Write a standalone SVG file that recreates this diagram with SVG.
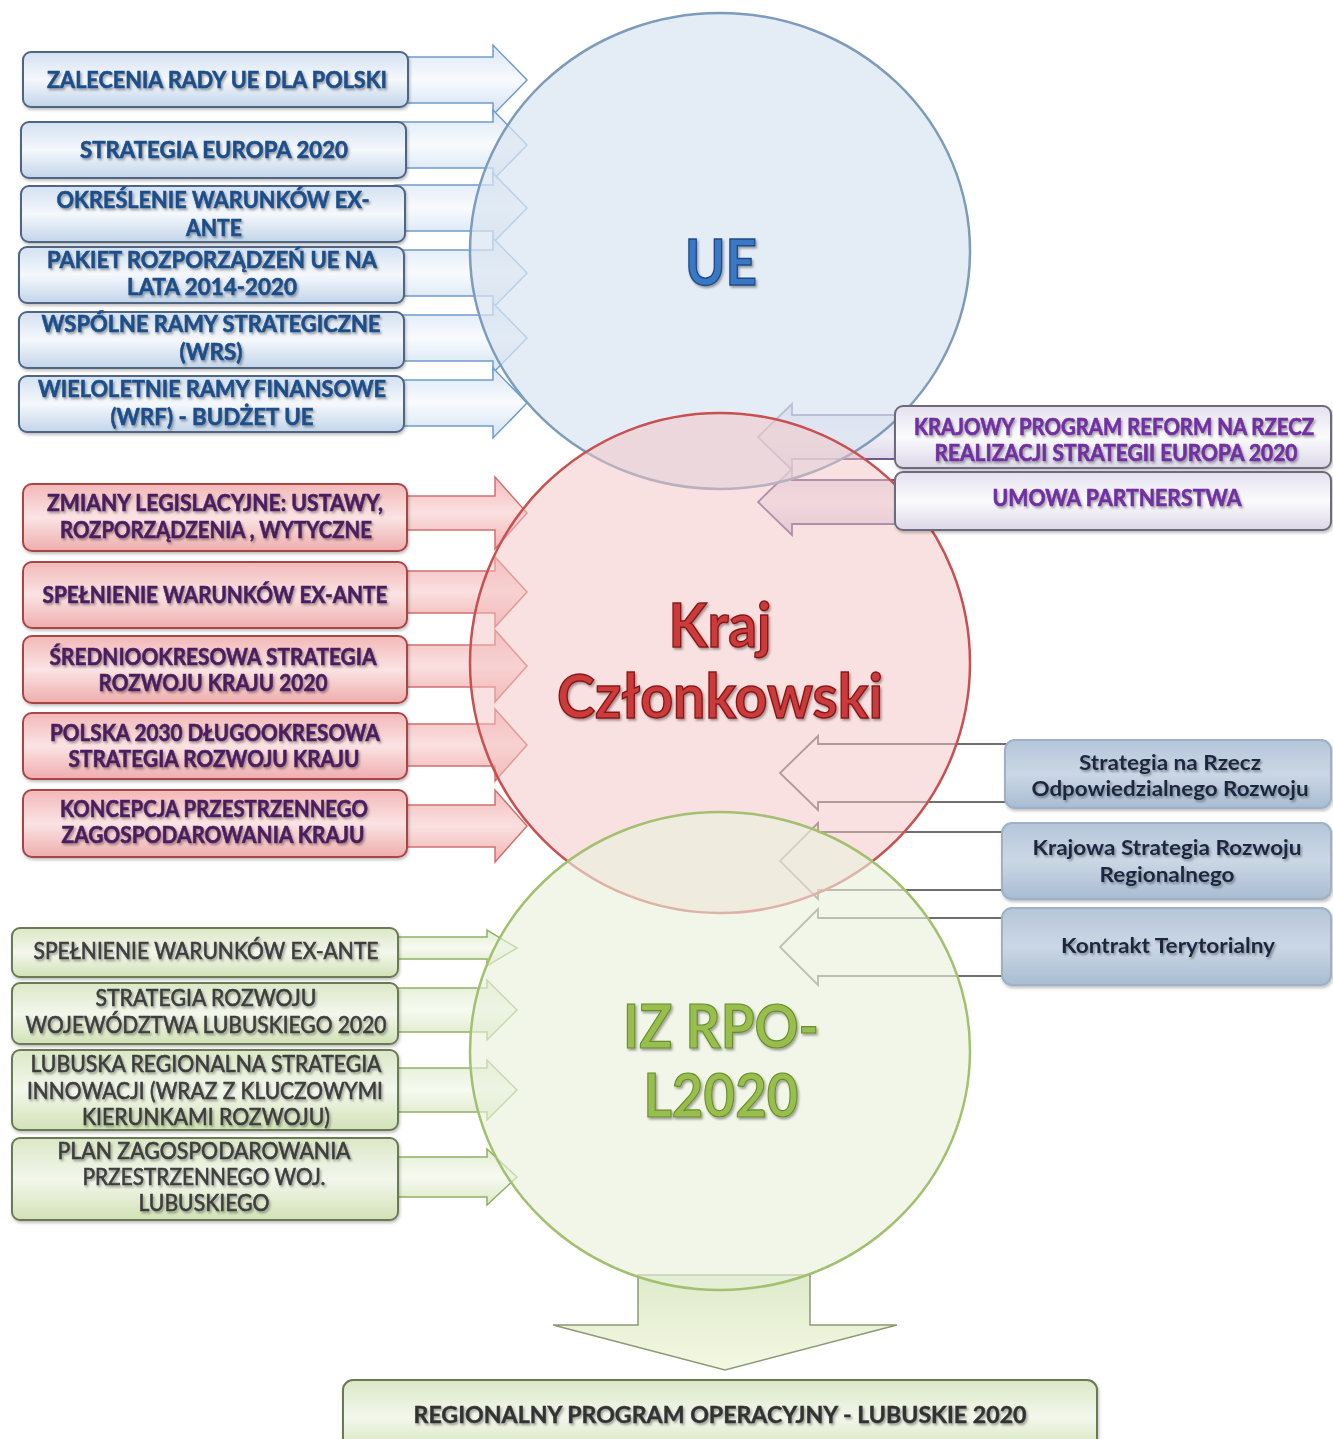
<svg xmlns="http://www.w3.org/2000/svg" width="1333" height="1439" viewBox="0 0 1333 1439">
<defs>
<linearGradient id="gBlueBox" x1="0" y1="0" x2="0" y2="1"><stop offset="0" stop-color="#d3e1f1"/><stop offset="0.5" stop-color="#f5f8fc"/><stop offset="1" stop-color="#c2d5ea"/></linearGradient>
<linearGradient id="gRedBox" x1="0" y1="0" x2="0" y2="1"><stop offset="0" stop-color="#f3b8b8"/><stop offset="0.5" stop-color="#fbe3e3"/><stop offset="1" stop-color="#efadad"/></linearGradient>
<linearGradient id="gPurBox" x1="0" y1="0" x2="0" y2="1"><stop offset="0" stop-color="#e4e1ee"/><stop offset="0.5" stop-color="#fbfbfd"/><stop offset="1" stop-color="#dcd8e8"/></linearGradient>
<linearGradient id="gGrayBox" x1="0" y1="0" x2="0" y2="1"><stop offset="0" stop-color="#b5c6da"/><stop offset="0.5" stop-color="#cbd7e5"/><stop offset="1" stop-color="#a9bcd2"/></linearGradient>
<linearGradient id="gGreenBox" x1="0" y1="0" x2="0" y2="1"><stop offset="0" stop-color="#dbe8c6"/><stop offset="0.5" stop-color="#f3f7ec"/><stop offset="1" stop-color="#d2e2b6"/></linearGradient>
<linearGradient id="gBlueArr" x1="0" y1="0" x2="0" y2="1"><stop offset="0" stop-color="#dbe7f4"/><stop offset="0.5" stop-color="#f8fbfe"/><stop offset="1" stop-color="#d3e2f2"/></linearGradient>
<linearGradient id="gRedArr" x1="0" y1="0" x2="0" y2="1"><stop offset="0" stop-color="#f4bcbc"/><stop offset="0.5" stop-color="#fbe0e0"/><stop offset="1" stop-color="#f2b2b2"/></linearGradient>
<linearGradient id="gPurArr" x1="0" y1="0" x2="0" y2="1"><stop offset="0" stop-color="#ddd6e8"/><stop offset="0.5" stop-color="#f1eef6"/><stop offset="1" stop-color="#d5cde3"/></linearGradient>
<linearGradient id="gGreenArr" x1="0" y1="0" x2="0" y2="1"><stop offset="0" stop-color="#e3edd2"/><stop offset="0.5" stop-color="#f7faf1"/><stop offset="1" stop-color="#dce8c7"/></linearGradient>
<linearGradient id="gDown" x1="0" y1="0" x2="0" y2="1"><stop offset="0" stop-color="#dfeacb"/><stop offset="1" stop-color="#f3f8e2"/></linearGradient>
<filter id="ts" x="-10%" y="-30%" width="120%" height="160%"><feDropShadow dx="1.5" dy="2" stdDeviation="1" flood-color="#000" flood-opacity="0.35"/></filter>
<filter id="bs" x="-5%" y="-20%" width="110%" height="140%"><feDropShadow dx="1" dy="2" stdDeviation="1.5" flood-color="#000" flood-opacity="0.25"/></filter>
<style>
.bl{fill:url(#gBlueBox);stroke:#4f6582;stroke-width:2}
.rb{fill:url(#gRedBox);stroke:#a84545;stroke-width:2}
.pb{fill:url(#gPurBox);stroke:#6d6a7c;stroke-width:2}
.gb{fill:url(#gGrayBox);stroke:#9fb1c6;stroke-width:2}
.grb{fill:url(#gGreenBox);stroke:#6b7a55;stroke-width:2}
.ab{fill:url(#gBlueArr);stroke:#6f9ccb;stroke-width:1.5}
.ar{fill:url(#gRedArr);stroke:#d27070;stroke-width:1.5}
.ap{fill:url(#gPurArr);stroke:#6e5a8e;stroke-width:1.8}
.ag{fill:#ffffff;fill-opacity:0.35;stroke:#6f6f6f;stroke-width:1.8}
.agr{fill:url(#gGreenArr);stroke:#8eb266;stroke-width:1.5}
.ad{fill:url(#gDown);stroke:#8c9a74;stroke-width:1.5}
text{font-family:Lato,"Liberation Sans",Arial,sans-serif;text-anchor:middle}
.tb{font-size:23px;font-weight:bold;fill:#1f4f8a;stroke:#1f4f8a;stroke-width:0.6;filter:url(#ts)}
.tr{font-size:23px;font-weight:bold;fill:#4b1f5e;stroke:#4b1f5e;stroke-width:0.6;filter:url(#ts)}
.tp{font-size:22px;font-weight:bold;fill:#7030a0;stroke:#7030a0;stroke-width:0.6;filter:url(#ts)}
.tg{font-size:21px;font-weight:bold;fill:#1c2840;filter:url(#ts)}
.tgr{font-size:23px;font-weight:normal;fill:#3d3d3d;stroke:#3d3d3d;stroke-width:0.6;filter:url(#ts)}
.tbot{font-size:23px;font-weight:bold;fill:#333333;stroke:#333333;stroke-width:0.4;filter:url(#ts)}
</style>
</defs>
<rect width="1333" height="1439" fill="#ffffff"/>

<g id="connectors">
<polygon class="ab" points="395,57 493,57 493,45 527,80 493,115 493,103 395,103"/>
<polygon class="ab" points="395,122 493,122 493,110 527,145 493,180 493,168 395,168"/>
<polygon class="ab" points="395,185 493,185 493,173 527,208 493,243 493,231 395,231"/>
<polygon class="ab" points="395,250 493,250 493,238 527,273 493,308 493,296 395,296"/>
<polygon class="ab" points="395,315 493,315 493,303 527,338 493,373 493,361 395,361"/>
<polygon class="ab" points="395,380 493,380 493,368 527,403 493,438 493,426 395,426"/>
<polygon class="ar" points="395,496 495,496 495,477 527,513 495,549 495,530 395,530"/>
<polygon class="ar" points="395,571 495,571 495,557 527,592 495,627 495,613 395,613"/>
<polygon class="ar" points="395,645 495,645 495,630 527,666 495,702 495,687 395,687"/>
<polygon class="ar" points="395,724 495,724 495,709 527,745 495,781 495,766 395,766"/>
<polygon class="ar" points="395,805 495,805 495,790 527,826 495,862 495,847 395,847"/>
<polygon class="ap" points="900,415 792,415 792,404 758,437 792,470 792,459 900,459"/>
<polygon class="ap" points="900,480 792,480 792,469 758,502 792,535 792,524 900,524"/>
<polygon class="ag" points="1010,744 818,744 818,736 780,773 818,810 818,802 1010,802"/>
<polygon class="ag" points="1010,832 818,832 818,823 780,861 818,899 818,890 1010,890"/>
<polygon class="ag" points="1010,918 818,918 818,909 780,947 818,985 818,976 1010,976"/>
<polygon class="agr" points="390,937 487,937 487,930 517,948 487,966 487,959 390,959"/>
<polygon class="agr" points="390,988 487,988 487,980 517,1010 487,1040 487,1032 390,1032"/>
<polygon class="agr" points="390,1068 487,1068 487,1060 517,1090 487,1120 487,1112 390,1112"/>
<polygon class="agr" points="390,1157 487,1157 487,1149 517,1177 487,1205 487,1197 390,1197"/>
<polygon class="ad" points="638,1275 810,1275 810,1325 897,1325 725,1370 553,1325 638,1325"/>
</g>

<g id="circle-ue">
<ellipse cx="720" cy="251" rx="250" ry="238" fill="#d9e4f1" fill-opacity="0.72" stroke="#7d9bbb" stroke-width="2.5"/>
<text x="721" y="285" font-size="64" font-weight="bold" fill="#3b78c4" stroke="#1d4b88" stroke-width="1.5" filter="url(#ts)" textLength="72" lengthAdjust="spacingAndGlyphs">UE</text>
</g>
<g id="circle-kraj">
<ellipse cx="720" cy="663" rx="250" ry="250" fill="#f4c3c3" fill-opacity="0.5" stroke="#c85050" stroke-width="2.5"/>
<text x="720" y="647" font-size="62" font-weight="bold" fill="#cc3b3b" stroke="#861818" stroke-width="1.5" filter="url(#ts)" textLength="103" lengthAdjust="spacingAndGlyphs">Kraj</text>
<text x="720" y="718" font-size="62" font-weight="bold" fill="#cc3b3b" stroke="#861818" stroke-width="1.5" filter="url(#ts)" textLength="326" lengthAdjust="spacingAndGlyphs">Członkowski</text>
</g>
<g id="circle-iz">
<ellipse cx="720" cy="1051" rx="250" ry="239" fill="#e9f1dc" fill-opacity="0.62" stroke="#a2c070" stroke-width="2.5"/>
<text x="721" y="1048" font-size="62" font-weight="bold" fill="#98bf4e" stroke="#6a8c2c" stroke-width="1.2" filter="url(#ts)" textLength="196" lengthAdjust="spacingAndGlyphs">IZ RPO-</text>
<text x="721" y="1117" font-size="62" font-weight="bold" fill="#98bf4e" stroke="#6a8c2c" stroke-width="1.2" filter="url(#ts)" textLength="155" lengthAdjust="spacingAndGlyphs">L2020</text>
</g>

<g id="ue-1"><rect class="bl" x="23" y="52" width="385" height="55" rx="8" filter="url(#bs)"/><text class="tb" x="217" y="88" textLength="340" lengthAdjust="spacingAndGlyphs">ZALECENIA RADY UE DLA POLSKI</text></g>
<g id="ue-2"><rect class="bl" x="21" y="122" width="385" height="56" rx="8" filter="url(#bs)"/><text class="tb" x="214" y="158" textLength="268" lengthAdjust="spacingAndGlyphs">STRATEGIA EUROPA 2020</text></g>
<g id="ue-3"><rect class="bl" x="21" y="186" width="384" height="56" rx="8" filter="url(#bs)"/><text class="tb" x="213" y="208" textLength="313" lengthAdjust="spacingAndGlyphs">OKREŚLENIE WARUNKÓW EX-</text><text class="tb" x="214" y="236" textLength="56" lengthAdjust="spacingAndGlyphs">ANTE</text></g>
<g id="ue-4"><rect class="bl" x="19" y="247" width="385" height="56" rx="8" filter="url(#bs)"/><text class="tb" x="212" y="268" textLength="330" lengthAdjust="spacingAndGlyphs">PAKIET ROZPORZĄDZEŃ UE  NA</text><text class="tb" x="212" y="295" textLength="170" lengthAdjust="spacingAndGlyphs">LATA 2014-2020</text></g>
<g id="ue-5"><rect class="bl" x="19" y="312" width="385" height="56" rx="8" filter="url(#bs)"/><text class="tb" x="211" y="332" textLength="339" lengthAdjust="spacingAndGlyphs">WSPÓLNE RAMY STRATEGICZNE</text><text class="tb" x="211" y="360" textLength="63" lengthAdjust="spacingAndGlyphs">(WRS)</text></g>
<g id="ue-6"><rect class="bl" x="19" y="376" width="385" height="56" rx="8" filter="url(#bs)"/><text class="tb" x="212" y="397" textLength="348" lengthAdjust="spacingAndGlyphs">WIELOLETNIE RAMY FINANSOWE</text><text class="tb" x="212" y="425" textLength="203" lengthAdjust="spacingAndGlyphs">(WRF) - BUDŻET UE</text></g>

<g id="kraj-1"><rect class="rb" x="23" y="484" width="384" height="67" rx="9" filter="url(#bs)"/><text class="tr" x="215" y="511" textLength="336" lengthAdjust="spacingAndGlyphs">ZMIANY LEGISLACYJNE: USTAWY,</text><text class="tr" x="216" y="538" textLength="312" lengthAdjust="spacingAndGlyphs">ROZPORZĄDZENIA , WYTYCZNE</text></g>
<g id="kraj-2"><rect class="rb" x="23" y="562" width="384" height="66" rx="9" filter="url(#bs)"/><text class="tr" x="215" y="603" textLength="345" lengthAdjust="spacingAndGlyphs">SPEŁNIENIE WARUNKÓW EX-ANTE</text></g>
<g id="kraj-3"><rect class="rb" x="23" y="636" width="384" height="67" rx="9" filter="url(#bs)"/><text class="tr" x="213" y="665" textLength="327" lengthAdjust="spacingAndGlyphs">ŚREDNIOOKRESOWA STRATEGIA</text><text class="tr" x="213" y="691" textLength="229" lengthAdjust="spacingAndGlyphs">ROZWOJU KRAJU 2020</text></g>
<g id="kraj-4"><rect class="rb" x="23" y="713" width="384" height="66" rx="9" filter="url(#bs)"/><text class="tr" x="215" y="741" textLength="330" lengthAdjust="spacingAndGlyphs">POLSKA 2030 DŁUGOOKRESOWA</text><text class="tr" x="214" y="767" textLength="291" lengthAdjust="spacingAndGlyphs">STRATEGIA ROZWOJU KRAJU</text></g>
<g id="kraj-5"><rect class="rb" x="23" y="790" width="384" height="67" rx="9" filter="url(#bs)"/><text class="tr" x="214" y="817" textLength="308" lengthAdjust="spacingAndGlyphs">KONCEPCJA PRZESTRZENNEGO</text><text class="tr" x="213" y="843" textLength="303" lengthAdjust="spacingAndGlyphs">ZAGOSPODAROWANIA KRAJU</text></g>

<g id="eu-kraj-1"><rect class="pb" x="895" y="406" width="436" height="62" rx="8" filter="url(#bs)"/><text class="tp" x="1114" y="435" textLength="400" lengthAdjust="spacingAndGlyphs">KRAJOWY PROGRAM REFORM NA RZECZ</text><text class="tp" x="1116" y="461" textLength="363" lengthAdjust="spacingAndGlyphs">REALIZACJI STRATEGII EUROPA 2020</text></g>
<g id="eu-kraj-2"><rect class="pb" x="895" y="472" width="436" height="58" rx="8" filter="url(#bs)"/><text class="tp" x="1117" y="506" textLength="249" lengthAdjust="spacingAndGlyphs">UMOWA PARTNERSTWA</text></g>

<g id="nat-1"><rect class="gb" x="1005" y="740" width="326" height="68" rx="10" filter="url(#bs)"/><text class="tg" x="1170" y="770" textLength="182" lengthAdjust="spacingAndGlyphs">Strategia na Rzecz</text><text class="tg" x="1170" y="796" textLength="277" lengthAdjust="spacingAndGlyphs">Odpowiedzialnego Rozwoju</text></g>
<g id="nat-2"><rect class="gb" x="1002" y="823" width="329" height="76" rx="10" filter="url(#bs)"/><text class="tg" x="1167" y="855" textLength="269" lengthAdjust="spacingAndGlyphs">Krajowa Strategia Rozwoju</text><text class="tg" x="1167" y="882" textLength="135" lengthAdjust="spacingAndGlyphs">Regionalnego</text></g>
<g id="nat-3"><rect class="gb" x="1002" y="908" width="329" height="77" rx="10" filter="url(#bs)"/><text class="tg" x="1168" y="953" textLength="214" lengthAdjust="spacingAndGlyphs">Kontrakt Terytorialny</text></g>

<g id="reg-1"><rect class="grb" x="12" y="928" width="386" height="49" rx="8" filter="url(#bs)"/><text class="tgr" x="206" y="959" textLength="345" lengthAdjust="spacingAndGlyphs">SPEŁNIENIE WARUNKÓW EX-ANTE</text></g>
<g id="reg-2"><rect class="grb" x="12" y="983" width="386" height="61" rx="8" filter="url(#bs)"/><text class="tgr" x="206" y="1006" textLength="221" lengthAdjust="spacingAndGlyphs">STRATEGIA ROZWOJU</text><text class="tgr" x="206" y="1033" textLength="361" lengthAdjust="spacingAndGlyphs">WOJEWÓDZTWA  LUBUSKIEGO 2020</text></g>
<g id="reg-3"><rect class="grb" x="12" y="1050" width="386" height="80" rx="8" filter="url(#bs)"/><text class="tgr" x="206" y="1072" textLength="351" lengthAdjust="spacingAndGlyphs">LUBUSKA REGIONALNA STRATEGIA</text><text class="tgr" x="205" y="1099" textLength="356" lengthAdjust="spacingAndGlyphs">INNOWACJI (WRAZ Z KLUCZOWYMI</text><text class="tgr" x="206" y="1125" textLength="248" lengthAdjust="spacingAndGlyphs">KIERUNKAMI ROZWOJU)</text></g>
<g id="reg-4"><rect class="grb" x="12" y="1138" width="386" height="82" rx="8" filter="url(#bs)"/><text class="tgr" x="204" y="1159" textLength="293" lengthAdjust="spacingAndGlyphs">PLAN ZAGOSPODAROWANIA</text><text class="tgr" x="204" y="1185" textLength="243" lengthAdjust="spacingAndGlyphs">PRZESTRZENNEGO WOJ.</text><text class="tgr" x="204" y="1211" textLength="131" lengthAdjust="spacingAndGlyphs">LUBUSKIEGO</text></g>

<g id="rpo"><rect class="grb" x="343" y="1380" width="754" height="75" rx="10" filter="url(#bs)"/><text class="tbot" x="720" y="1423" textLength="613" lengthAdjust="spacingAndGlyphs">REGIONALNY PROGRAM OPERACYJNY  - LUBUSKIE 2020</text></g>
</svg>
